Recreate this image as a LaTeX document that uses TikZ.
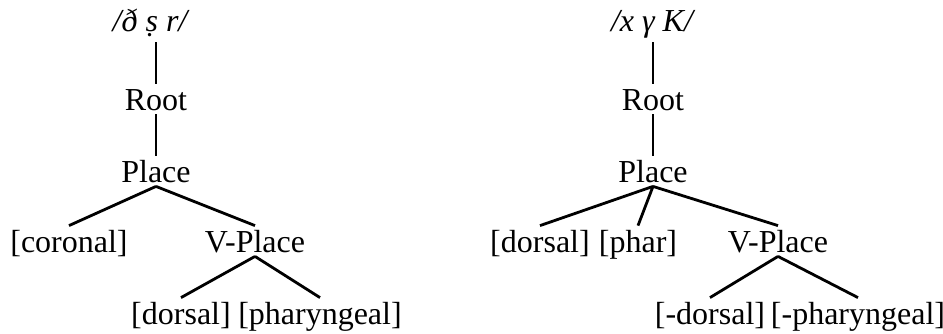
\documentclass[tikz,border=0pt]{standalone}
\usepackage{fontspec}
\setmainfont{Liberation Serif}
\usepackage{tikz}
\usetikzlibrary{calc}

\begin{document}
\begin{tikzpicture}[x=0.5pt, y=-0.5pt,
                    feat/.style={font=\fontsize{16}{19}\selectfont, anchor=base,
                                 inner xsep=0pt, inner ysep=2pt,
                                 text height=11pt, text depth=0pt},
                    segs/.style={feat, font=\fontsize{16}{19}\selectfont\itshape, text depth=3.5pt},
                    branch/.style={line width=1.4pt}
                    ]
    \useasboundingbox (0,0) rectangle (943,333);

    % LEFT TREE %
    \node[segs] (Ltop) at (150,31) {/ð ṣ r/};
    \node[feat] (LRoot) at (156,110) {Root};
    \node[feat] (LPlace) at (156,182) {Place};
    \node[feat] (Lcor) at (69,252) {[coronal]};
    \node[feat] (LVPlace) at (255,252) {V-Place};
    \node[feat] (Ldor) at (181,324) {[dorsal]};
    \node[feat] (Lphar) at (320,324) {[pharyngeal]};

    \draw[branch] (LRoot.north |- Ltop.south) -- (LRoot.north);
    \foreach \x/\y in {LRoot/LPlace, LPlace/Lcor, LPlace/LVPlace, LVPlace/Ldor, LVPlace/Lphar}
    \draw[branch] (\x.south) -- (\y.north);

    % RIGHT TREE %
    \node[segs] (Rtop) at (652,31) {/x γ K/};
    \node[feat] (RRoot) at (653,110) {Root};
    \node[feat] (RPlace) at (653,182) {Place};
    \node[feat] (Rdor) at (540,252) {[dorsal]};
    \node[feat] (Rphar) at (638,252) {[phar]};
    \node[feat] (RVPlace) at (778,252) {V-Place};
    \node[feat] (Rmdor) at (710,324) {[-dorsal]};
    \node[feat] (Rmphar) at (858,324) {[-pharyngeal]};

    \draw[branch] (RRoot.north |- Rtop.south) -- (RRoot.north);
    \foreach \x/\y in {RRoot/RPlace, RPlace/Rdor, RPlace/Rphar, RPlace/RVPlace, RVPlace/Rmdor, RVPlace/Rmphar}
    \draw[branch] (\x.south) -- (\y.north);
\end{tikzpicture}
\end{document}
